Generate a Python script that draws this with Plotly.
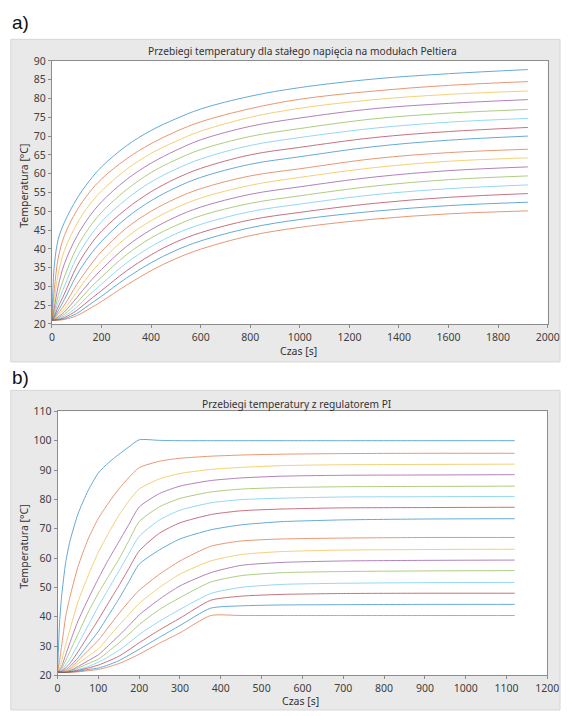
import plotly.graph_objects as go

W, H = 573, 716

# ---------------- data: panel a (constant voltage) ----------------
time_a = [0, 5, 10, 25, 50, 100, 150, 200, 300, 400, 500, 600, 800, 1000, 1300, 1600, 1920]
temps_a = [
    [21, 31, 36, 42.5, 47, 53.3, 58, 61.8, 67.4, 71.5, 74.6, 77.2, 80.6, 82.9, 85.2, 86.6, 87.7],
    [21, 25.5, 29.5, 37.5, 43.5, 50.2, 54.9, 58.6, 63.9, 68, 71.2, 73.8, 77.3, 79.8, 82, 83.5, 84.5],
    [21, 23.5, 26.5, 33.3, 39.5, 46.6, 51.6, 55.4, 61.1, 65.4, 68.6, 71.3, 75, 77.4, 79.7, 81.1, 82],
    [21, 22.5, 24.5, 30, 36, 43.3, 48.5, 52.5, 58.4, 62.8, 66.2, 69, 72.6, 74.8, 77.3, 78.7, 79.7],
    [21, 22, 23.3, 27.5, 32.5, 40.3, 45.6, 49.7, 55.7, 60.3, 63.7, 66.4, 69.9, 72, 74.6, 76.1, 77.1],
    [21, 21.7, 22.6, 25.8, 30, 37.7, 43, 47.2, 53.2, 57.8, 61.2, 63.9, 67.5, 69.6, 72.1, 73.7, 74.7],
    [21, 21.5, 22.1, 24.5, 28, 35.3, 40.6, 44.7, 50.6, 55.2, 58.7, 61.4, 65, 67, 69.6, 71.2, 72.3],
    [21, 21.3, 21.8, 23.5, 26.5, 33, 38, 42, 48.2, 52.8, 56.3, 59, 62.5, 64.5, 67.2, 68.9, 70],
    [21, 21.2, 21.5, 22.8, 25, 30.5, 35.2, 39.3, 45.5, 50, 53.4, 56, 59.4, 61.3, 64, 65.6, 66.5],
    [21, 21.1, 21.3, 22.3, 24, 28.5, 33, 36.8, 43, 47.5, 50.9, 53.5, 56.9, 59, 61.6, 63.3, 64.2],
    [21, 21.1, 21.2, 21.9, 23.2, 27, 31, 34.5, 40.6, 45.1, 48.5, 51.1, 54.5, 56.5, 59.1, 60.8, 61.8],
    [21, 21, 21.1, 21.6, 22.6, 25.6, 29.3, 32.5, 38.4, 42.9, 46.2, 48.8, 52.1, 54.1, 56.7, 58.4, 59.4],
    [21, 21, 21.1, 21.4, 22.1, 24.5, 27.7, 30.6, 36.2, 40.6, 44, 46.5, 49.9, 51.9, 54.4, 56, 57],
    [21, 21, 21, 21.2, 21.7, 23.6, 26.3, 28.9, 34.1, 38.4, 41.8, 44.3, 47.7, 49.7, 52.1, 53.7, 54.7],
    [21, 21, 21, 21.1, 21.4, 22.8, 25.1, 27.4, 32.2, 36.3, 39.6, 42.1, 45.6, 47.8, 50, 51.5, 52.4],
    [21, 21, 21, 21, 21.2, 22.2, 24, 26, 30.3, 34.2, 37.4, 39.9, 43.5, 45.7, 47.9, 49.3, 50.1],
]

# ---------------- data: panel b (PI controller) ----------------
time_b = [0, 5, 10, 20, 30, 50, 75, 100, 125, 150, 175, 200, 250, 300, 375, 450, 550, 700, 900, 1120]
temps_b = [
    [21, 38, 47, 58.5, 65.5, 75, 83, 89, 92.5, 95.3, 97.9, 100.3, 100.1, 100, 100, 100, 100, 100, 100, 100],
    [21, 25, 30, 40, 46.5, 57, 66.5, 73.5, 78.8, 83.5, 87.5, 90.8, 93, 94, 94.7, 95.1, 95.4, 95.6, 95.7, 95.7],
    [21, 22.5, 25, 30.5, 35.5, 45, 54, 62, 68.5, 74.5, 79.5, 83.5, 87, 88.8, 90.2, 90.9, 91.5, 91.8, 91.9, 92],
    [21, 21.8, 23, 27, 31, 38.5, 46, 53, 59.5, 65.5, 71.5, 77.4, 82, 84.5, 86.4, 87.3, 87.9, 88.2, 88.3, 88.4],
    [21, 21.5, 22.3, 25, 28, 34, 41.5, 48, 53.8, 59.5, 66, 72.4, 77.5, 80.3, 82.5, 83.5, 84, 84.3, 84.4, 84.5],
    [21, 21.3, 21.8, 23.5, 25.5, 30.5, 37, 43.5, 49.5, 55.5, 61.5, 67.4, 73, 76.3, 78.8, 79.9, 80.4, 80.8, 80.9, 81],
    [21, 21.2, 21.5, 22.6, 24, 28, 33.5, 39, 44.8, 50.5, 56.5, 62.4, 68.5, 72, 74.8, 76.1, 76.7, 77.1, 77.2, 77.3],
    [21, 21.1, 21.3, 22, 23, 26, 30.5, 35, 40.5, 46, 52, 57.9, 62.8, 66.5, 69.6, 71.3, 72.4, 73, 73.3, 73.4],
    [21, 21.1, 21.2, 21.6, 22.3, 25, 28.5, 32, 36.5, 41, 45.2, 49, 54.5, 59, 64, 65.8, 66.5, 66.8, 67, 67],
    [21, 21, 21.1, 21.4, 21.9, 24, 26.5, 29, 33, 37, 40.8, 44.5, 50, 54.5, 59, 61.2, 62.2, 62.7, 62.9, 63],
    [21, 21, 21, 21.2, 21.6, 23, 25, 27, 30.2, 33.5, 37, 40.6, 46, 50.5, 55, 57.5, 58.5, 59, 59.2, 59.3],
    [21, 21, 21, 21.1, 21.4, 22.5, 24, 25.5, 28.2, 31, 34.1, 37.3, 42.5, 46.5, 51.8, 54, 55, 55.4, 55.6, 55.7],
    [21, 21, 21, 21.1, 21.3, 22, 23, 24.5, 26.4, 28.5, 31.1, 33.9, 38.5, 42.5, 47.9, 50, 51, 51.4, 51.6, 51.7],
    [21, 21, 21, 21, 21.2, 21.7, 22.5, 23.5, 24.9, 26.5, 28.7, 31.1, 35.5, 39.5, 45.6, 47, 47.6, 47.9, 48, 48],
    [21, 21, 21, 21, 21.1, 21.4, 22, 22.5, 23.6, 25, 26.9, 28.9, 33, 37, 42.9, 43.7, 44, 44.1, 44.2, 44.2],
    [21, 21, 21, 21, 21, 21.2, 21.6, 22, 22.9, 24, 25.5, 27.2, 31, 34.5, 40.4, 40.4, 40.4, 40.4, 40.4, 40.4],
]

palette = ["#0072BD", "#D95319", "#EDB120", "#7E2F8E", "#77AC30", "#4DBEEE", "#A2142F"]

xticks_a = list(range(0, 2001, 200))
yticks_a = list(range(20, 91, 5))
xticks_b = list(range(0, 1201, 100))
yticks_b = list(range(20, 111, 10))

title_a = "Przebiegi temperatury dla stałego napięcia na modułach Peltiera"
title_b = "Przebiegi temperatury z regulatorem PI"
xlabel = "Czas [s]"
ylabel = "Temperatura [°C]"

FONT = "Noto Sans"

# plot-area boxes in pixels (left, top, right, bottom)
BOX_A = (50.3, 55, 559.3, 323.3)
BOX_B = (56, 412.4, 559, 681.7)


def px(x):
    return x / W


def py(y):
    return 1 - y / H


fig = go.Figure()
for i, ys in enumerate(temps_a):
    fig.add_trace(go.Scatter(x=time_a, y=ys, mode="lines", xaxis="x", yaxis="y",
                             line=dict(color=palette[i % 7], width=1, shape="spline", smoothing=1.0),
                             opacity=0.6, hoverinfo="skip"))
for i, ys in enumerate(temps_b):
    fig.add_trace(go.Scatter(x=time_b, y=ys, mode="lines", xaxis="x2", yaxis="y2",
                             line=dict(color=palette[i % 7], width=1, shape="spline", smoothing=0.6),
                             opacity=0.6, hoverinfo="skip"))

axis_common = dict(showgrid=False, zeroline=False, showline=True, linecolor="#8c8c8c", linewidth=1,
                   mirror=True, ticks="outside", ticklen=3, tickcolor="#8c8c8c",
                   tickfont=dict(family=FONT, size=10.5, color="#404040"))


def frame(x0, y0, x1, y1, fill, line):
    return dict(type="rect", xref="paper", yref="paper", x0=px(x0), x1=px(x1), y0=py(y1), y1=py(y0),
                fillcolor=fill, line=dict(color=line, width=1), layer="below")


fig.update_layout(
    width=W, height=H, margin=dict(l=0, r=0, t=0, b=0),
    paper_bgcolor="white", plot_bgcolor="white", showlegend=False,
    xaxis=dict(domain=[px(BOX_A[0]), px(BOX_A[2])], range=[0, 2000], tickvals=xticks_a, anchor="y", **axis_common),
    yaxis=dict(domain=[py(BOX_A[3]), py(BOX_A[1])], range=[20, 90], tickvals=yticks_a, anchor="x", **axis_common),
    xaxis2=dict(domain=[px(BOX_B[0]), px(BOX_B[2])], range=[0, 1200], tickvals=xticks_b, anchor="y2", **axis_common),
    yaxis2=dict(domain=[py(BOX_B[3]), py(BOX_B[1])], range=[20, 110], tickvals=yticks_b, anchor="x2", **axis_common),
    shapes=[
        frame(8, 33, 572, 362, "#e9e9e9", "#d6d6d6"),
        frame(8, 391, 572, 717, "#e9e9e9", "#d6d6d6"),
        frame(*BOX_A, "white", "rgba(0,0,0,0)"),
        frame(*BOX_B, "white", "rgba(0,0,0,0)"),
    ],
    annotations=[
        dict(text="a)", x=px(7), y=py(16), xref="paper", yref="paper", xanchor="left", yanchor="middle",
             showarrow=False, font=dict(family="Liberation Sans", size=19, color="#111")),
        dict(text="b)", x=px(7), y=py(378), xref="paper", yref="paper", xanchor="left", yanchor="middle",
             showarrow=False, font=dict(family="Liberation Sans", size=19, color="#111")),
        dict(text=title_a, x=px(308), y=py(45), xref="paper", yref="paper", xanchor="center", yanchor="middle",
             showarrow=False, font=dict(family=FONT, size=10.2, color="#333")),
        dict(text=title_b, x=px(302), y=py(405), xref="paper", yref="paper", xanchor="center", yanchor="middle",
             showarrow=False, font=dict(family=FONT, size=10.2, color="#333")),
        dict(text=xlabel, x=px(303), y=py(351), xref="paper", yref="paper", xanchor="center", yanchor="middle",
             showarrow=False, font=dict(family=FONT, size=10.5, color="#333")),
        dict(text=xlabel, x=px(306), y=py(708), xref="paper", yref="paper", xanchor="center", yanchor="middle",
             showarrow=False, font=dict(family=FONT, size=10.5, color="#333")),
        dict(text=ylabel, x=px(22), y=py(182), xref="paper", yref="paper", xanchor="center", yanchor="middle",
             textangle=-90, showarrow=False, font=dict(family=FONT, size=10.5, color="#333")),
        dict(text=ylabel, x=px(22), y=py(550), xref="paper", yref="paper", xanchor="center", yanchor="middle",
             textangle=-90, showarrow=False, font=dict(family=FONT, size=10.5, color="#333")),
    ],
)

fig.write_html("out.html", config={"displayModeBar": False},
               post_script="document.body.style.margin='0';document.body.style.overflow='hidden';")
